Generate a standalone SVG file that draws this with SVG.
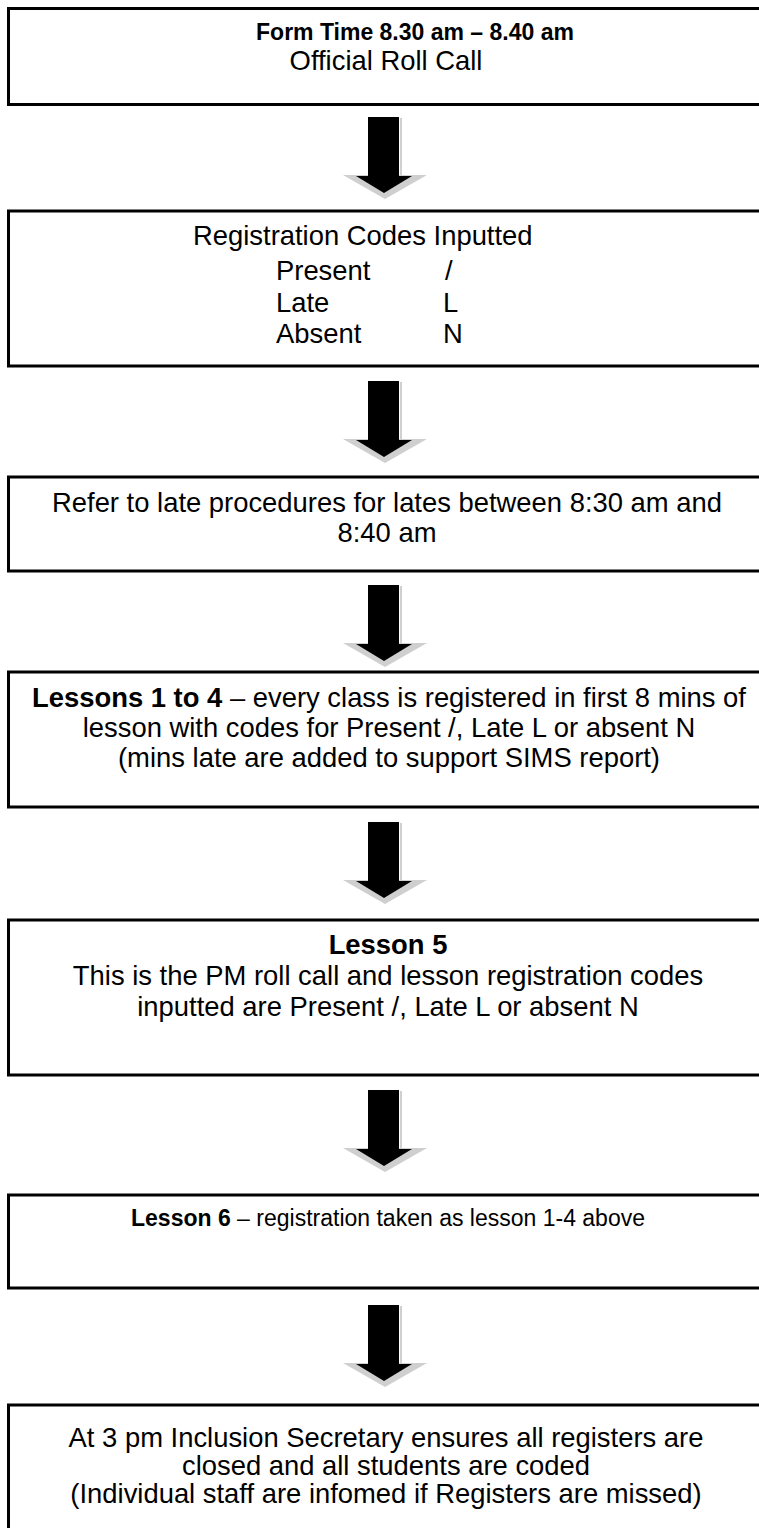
<svg xmlns="http://www.w3.org/2000/svg" width="759" height="1528" viewBox="0 0 759 1528">
<style>
.box{fill:#fff;stroke:#000;stroke-width:3}
text{font-family:"Liberation Sans",Arial,sans-serif;font-size:27.4px;fill:#000}
.c{text-anchor:middle}
.b{font-weight:bold}
.s{font-size:23px}
.shadow{fill:#cfcfcf}
.edge{stroke:#d0d0d0;stroke-width:2}
</style>
<defs>
<g id="arrow">
<line class="edge" x1="401" y1="1" x2="401" y2="59"/>
<polygon class="shadow" points="343,58 427,58 385,82"/>
<polygon fill="#000" points="368,0 399,0 399,59 412,59 384,76 356,59 368,59"/>
</g>
</defs>
<rect width="759" height="1528" fill="#fff"/>
<g id="connectors">
<use href="#arrow" y="117"/>
<use href="#arrow" y="381"/>
<use href="#arrow" y="585"/>
<use href="#arrow" y="822"/>
<use href="#arrow" y="1090"/>
<use href="#arrow" y="1305"/>
</g>
<g id="n1">
<rect class="box" x="8.5" y="8.5" width="760" height="96"/>
<text class="c b s" x="415" y="40">Form Time 8.30 am – 8.40 am</text>
<text class="c" x="386" y="70">Official Roll Call</text>
</g>
<g id="n2">
<rect class="box" x="8.5" y="211" width="760" height="155"/>
<text x="193" y="245">Registration Codes Inputted</text>
<text x="276" y="280">Present</text><text x="445" y="280">/</text>
<text x="276" y="312">Late</text><text x="443" y="312">L</text>
<text x="276" y="343">Absent</text><text x="443" y="343">N</text>
</g>
<g id="n3">
<rect class="box" x="8.5" y="477" width="760" height="94"/>
<text class="c" x="387" y="512">Refer to late procedures for lates between 8:30 am and</text>
<text class="c" x="387" y="542">8:40 am</text>
</g>
<g id="n4">
<rect class="box" x="8.5" y="672" width="760" height="135"/>
<text class="c" x="389" y="707"><tspan class="b">Lessons 1 to 4</tspan> – every class is registered in first 8 mins of</text>
<text class="c" x="389" y="737">lesson with codes for Present /, Late L or absent N</text>
<text class="c" x="389" y="767">(mins late are added to support SIMS report)</text>
</g>
<g id="n5">
<rect class="box" x="8.5" y="920" width="760" height="155"/>
<text class="c b" x="388" y="954">Lesson 5</text>
<text class="c" x="388" y="985">This is the PM roll call and lesson registration codes</text>
<text class="c" x="388" y="1016">inputted are Present /, Late L or absent N</text>
</g>
<g id="n6">
<rect class="box" x="8.5" y="1195" width="760" height="93"/>
<text class="c s" x="388" y="1226"><tspan class="b">Lesson 6</tspan> – registration taken as lesson 1-4 above</text>
</g>
<g id="n7">
<rect class="box" x="8.5" y="1405" width="760" height="140"/>
<text class="c" x="386" y="1447">At 3 pm Inclusion Secretary ensures all registers are</text>
<text class="c" x="386" y="1475">closed and all students are coded</text>
<text class="c" x="386" y="1503">(Individual staff are infomed if Registers are missed)</text>
</g>
</svg>
